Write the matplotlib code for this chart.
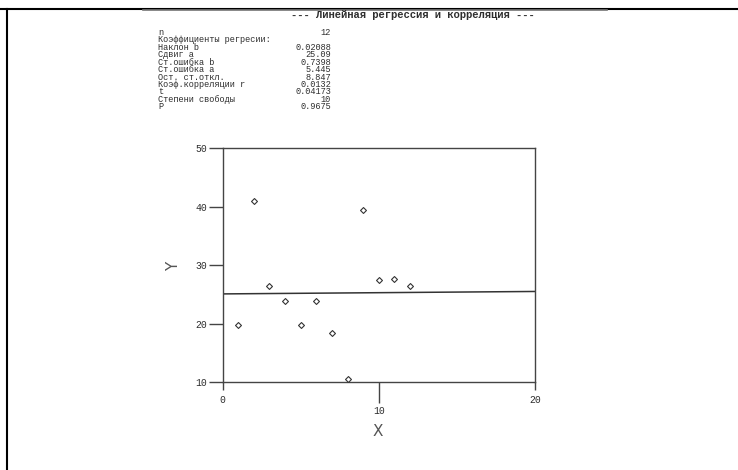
import numpy as np
import matplotlib
matplotlib.use("Agg")
from matplotlib import pyplot as plt
from matplotlib.lines import Line2D

# --- данные с картинки ---
x_vals = [1, 2, 3, 4, 5, 6, 7, 8, 9, 10, 11, 12]
y_vals = [19.8, 40.9, 26.4, 23.8, 19.8, 23.8, 18.5, 10.5, 39.5, 27.5, 27.7, 26.4]

slope_b = 0.02088
intercept_a = 25.09

title_text = "--- Линейная регрессия и корреляция ---"
stat_names = ["n", "Коэффициенты регресии:", "Наклон b", "Сдвиг a", "Ст.ошибка b",
              "Ст.ошибка a", "Ост. ст.откл.", "Коэф.корреляции r", "t",
              "Степени свободы", "P"]
stat_values = ["12", "", "0.02088", "25.09", "0.7398", "5.445", "8.847",
               "0.0132", "0.04173", "10", "0.9675"]

x_major = [0, 20]
x_minor = [10]
y_ticks = [10, 20, 30, 40, 50]

W, H = 738, 470
MONO = ["Liberation Mono", "DejaVu Sans Mono"]
INK = "#2e2e2e"


def fx(px):
    return px / W


def fy(py):
    return 1 - py / H


fig = plt.figure(figsize=(W / 100, H / 100), dpi=100)
fig.patch.set_facecolor("white")

# рамка страницы
fig.add_artist(Line2D([0, 1], [fy(9), fy(9)], color="black", lw=1.5))
fig.add_artist(Line2D([fx(6.7), fx(6.7)], [fy(9), 0], color="black", lw=1.5))
fig.add_artist(Line2D([fx(143), fx(607)], [fy(10.3), fy(10.3)], color="#777777", lw=1.2))

# заголовок и таблица статистики (два многострочных блока)
fig.text(fx(413), fy(15), title_text, family=MONO, fontsize=7.6, fontweight="bold",
         color=INK, ha="center", va="center")
block_kw = dict(family=MONO, fontsize=6.2, color=INK, va="top", linespacing=0.775)
fig.text(fx(158), fy(28.0), "\n".join(stat_names), ha="left", multialignment="left", **block_kw)
fig.text(fx(331), fy(28.0), "\n".join(stat_values), ha="right", multialignment="right", **block_kw)

# график
ax = fig.add_axes([fx(222.5), fy(382.3), fx(535) - fx(222.5), fy(148) - fy(382.3)])
ax.set_xlim(0, 20)
ax.set_ylim(10, 50)
for sp in ax.spines.values():
    sp.set_color("#444444")
    sp.set_linewidth(1.0)

ax.scatter(x_vals, y_vals, marker="D", s=9, facecolors="white", edgecolors="#333333",
           linewidths=0.8, zorder=3)
xl = np.array([0, 20])
ax.plot(xl, intercept_a + slope_b * xl, color="#333333", lw=1.1)

ax.set_xticks(x_major)
ax.set_xticklabels([str(v) for v in x_major])
ax.set_xticks(x_minor, minor=True)
ax.set_xticklabels([str(v) for v in x_minor], minor=True)
ax.set_yticks(y_ticks)
ax.set_yticklabels([str(v) for v in y_ticks])

ax.tick_params(axis="x", which="major", length=6, width=1.0, color="#444444", pad=3.5,
               labelsize=7, labelcolor=INK)
ax.tick_params(axis="x", which="minor", length=15, width=1.0, color="#444444", pad=2,
               labelsize=7, labelcolor=INK)
ax.tick_params(axis="y", length=10, width=1.0, color="#444444", pad=1.2,
               labelsize=7, labelcolor=INK)
for lab in ax.get_xticklabels() + ax.get_xticklabels(minor=True) + ax.get_yticklabels():
    lab.set_family(MONO)

fig.text(fx(378), fy(431), "X", fontsize=11, color="#555555", ha="center", va="center")
fig.text(fx(174), fy(266), "Y", fontsize=11, color="#555555", ha="center", va="center",
         rotation=90)

fig.savefig("out.png", dpi=100)
